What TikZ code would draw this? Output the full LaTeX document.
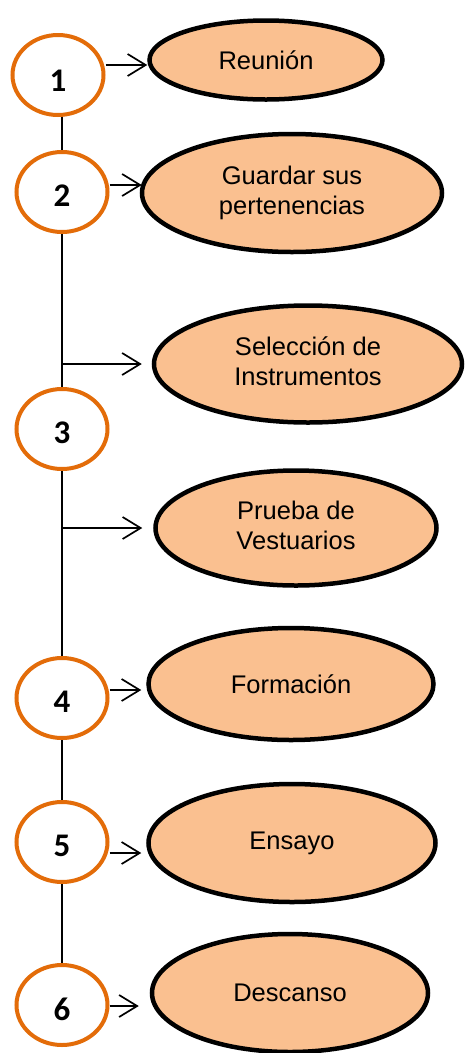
\documentclass[tikz,border=0pt]{standalone}
\usepackage{fontspec}
\setmainfont{Liberation Sans}
\newfontfamily\numfont{Carlito}
\usetikzlibrary{shapes.geometric,arrows.meta}
\definecolor{ringorange}{HTML}{E36C09}
\definecolor{peach}{HTML}{FAC090}
\newcommand{\lowdigit}[2]{\raisebox{-#1}[\height][\depth]{#2}}
\tikzset{
  ring/.style={ellipse, draw=ringorange, line width=4pt, fill=white, inner sep=0pt,
    minimum width=91pt, minimum height=80pt, font=\numfont\bfseries\fontsize{33}{33}\selectfont},
  task/.style={ellipse, draw=black, line width=4.5pt, fill=peach, inner sep=0pt,
    align=center, font=\fontsize{25.5}{30}\selectfont},
  conn/.style={draw=black, line width=1.5pt},
  arr/.style={conn, -{Straight Barb[length=18pt, width=22pt, line width=1.7pt]}},
}
\begin{document}
\begin{tikzpicture}[x=1pt,y=-1pt]
\useasboundingbox (0,0) rectangle (466,1053);
% circles
\node[ring] (c1) at (58,75) {\lowdigit{6pt}{1}};
\node[ring] (c2) at (62,192) {\lowdigit{4pt}{2}};
\node[ring] (c3) at (62,429) {\lowdigit{4pt}{3}};
\node[ring] (c4) at (62,698) {\lowdigit{4pt}{4}};
\node[ring] (c5) at (62,842) {\lowdigit{4pt}{5}};
\node[ring] (c6) at (62,1005) {\lowdigit{4pt}{6}};
% tasks
\node[task, minimum width=233pt, minimum height=79pt] (e1) at (266,60) {Reunión};
\node[task, minimum width=300pt, minimum height=118pt] (e2) at (292,193) {\raisebox{-4pt}{\begin{tabular}{@{}c@{}}Guardar sus\\pertenencias\end{tabular}}};
\node[task, minimum width=308pt, minimum height=117pt] (e3) at (308,364) {\begin{tabular}{@{}c@{}}Selección de\\Instrumentos\end{tabular}};
\node[task, minimum width=281pt, minimum height=115pt] (e4) at (296,528) {\begin{tabular}{@{}c@{}}Prueba de\\Vestuarios\end{tabular}};
\node[task, minimum width=285pt, minimum height=112pt] (e5) at (291,684) {Formación};
\node[task, minimum width=287pt, minimum height=118pt] (e6) at (292,843) {Ensayo};
\node[task, minimum width=276pt, minimum height=118pt] (e7) at (290,993) {Descanso};
% spine
\draw[conn] (c2.center |- c1.south) -- (c2.north);
\draw[conn] (c2.south) -- (c3.north);
\draw[conn] (c3.south) -- (c4.north);
\draw[conn] (c4.south) -- (c5.north);
\draw[conn] (c5.south) -- (c6.north);
% arrows
\coordinate (a1) at (0,65);
\coordinate (a2) at (0,185);
\coordinate (a5) at (0,690);
\coordinate (a6) at (0,853);
\coordinate (a7) at (0,1006);
\draw[arr] (c1.east |- a1) -- (e1.west |- a1);
\draw[arr] (c2.east |- a2) -- ([xshift=2pt]e2.west |- a2);
\draw[arr, shorten >=10pt] (c3.center |- e3.west) -- (e3.west);
\draw[arr, shorten >=11pt] (c3.center |- e4.west) -- (e4.west);
\draw[arr, shorten >=5pt] (c4.east |- a5) -- (e5.west |- a5);
\draw[arr, shorten >=5pt] (c5.east |- a6) -- (e6.west |- a6);
\draw[arr, shorten >=11pt] (c6.east |- a7) -- (e7.west |- a7);
\end{tikzpicture}
\end{document}
